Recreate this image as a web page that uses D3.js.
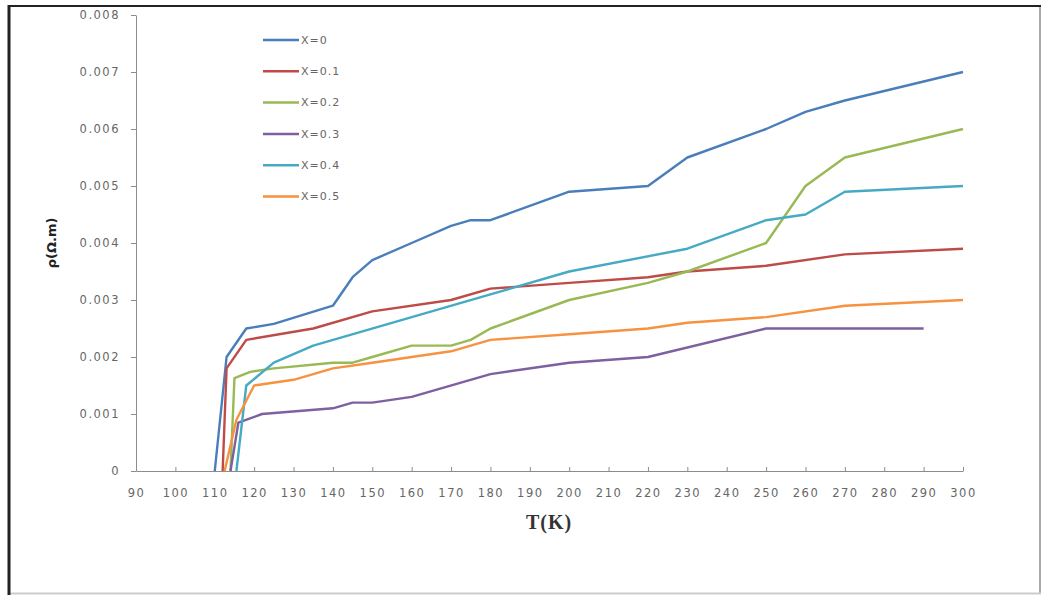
<!DOCTYPE html>
<html>
<head>
<meta charset="utf-8">
<script src="https://cdn.jsdelivr.net/npm/d3@7.9.0/dist/d3.min.js"></script>
<style>
  body { margin: 0; background: #fff; }
  .tick text { font-family: "DejaVu Sans", sans-serif; font-size: 11.5px; fill: #666; letter-spacing: 1.5px; }
  .axis path, .axis line { stroke: #8c8c8c; }
</style>
</head>
<body>
<svg id="chart" width="1045" height="595"></svg>
<script>
const seriesLabels = ['X=0', 'X=0.1', 'X=0.2', 'X=0.3', 'X=0.4', 'X=0.5'];
const seriesColors = ['#4a7ebb', '#be4b48', '#98b954', '#7d60a0', '#46aac5', '#f69240'];

// temperature (K) and resistivity (ohm.m) for each composition
const tempX0 = [110, 113, 118, 125, 140, 145, 150, 160, 170, 175, 180, 200, 220, 230, 250, 260, 270, 300];
const rhoX0 = [0, 0.002, 0.0025, 0.00258, 0.0029, 0.0034, 0.0037, 0.004, 0.0043, 0.0044, 0.0044, 0.0049, 0.005, 0.0055, 0.006, 0.0063, 0.0065, 0.007];

const tempX1 = [112, 113, 118, 135, 150, 170, 180, 200, 220, 230, 250, 270, 300];
const rhoX1 = [0, 0.0018, 0.0023, 0.0025, 0.0028, 0.003, 0.0032, 0.0033, 0.0034, 0.0035, 0.0036, 0.0038, 0.0039];

const tempX2 = [114, 115, 119, 125, 140, 145, 150, 160, 170, 175, 180, 200, 220, 230, 250, 260, 270, 300];
const rhoX2 = [0, 0.00163, 0.00174, 0.0018, 0.0019, 0.0019, 0.002, 0.0022, 0.0022, 0.0023, 0.0025, 0.003, 0.0033, 0.0035, 0.004, 0.005, 0.0055, 0.006];

const tempX3 = [114, 116, 122, 140, 145, 150, 160, 180, 200, 220, 250, 290];
const rhoX3 = [0, 0.00085, 0.001, 0.0011, 0.0012, 0.0012, 0.0013, 0.0017, 0.0019, 0.002, 0.0025, 0.0025];

const tempX4 = [115.5, 118, 125, 135, 180, 200, 230, 250, 260, 270, 300];
const rhoX4 = [0, 0.0015, 0.0019, 0.0022, 0.0031, 0.0035, 0.0039, 0.0044, 0.0045, 0.0049, 0.005];

const tempX5 = [112.5, 115.5, 120, 130, 140, 150, 170, 180, 200, 220, 230, 250, 270, 300];
const rhoX5 = [0, 0.0009, 0.0015, 0.0016, 0.0018, 0.0019, 0.0021, 0.0023, 0.0024, 0.0025, 0.0026, 0.0027, 0.0029, 0.003];

const xTicks = d3.range(90, 301, 10);
const yTicks = [0, 0.001, 0.002, 0.003, 0.004, 0.005, 0.006, 0.007, 0.008];

let temps = [tempX0, tempX1, tempX2, tempX3, tempX4, tempX5];
let rhos = [rhoX0, rhoX1, rhoX2, rhoX3, rhoX4, rhoX5];

let series = seriesLabels.map((label, i) => ({
  label: label,
  color: seriesColors[i],
  points: temps[i].map((t, j) => [t, rhos[i][j]])
}));

let svg = d3.select('#chart');

svg.append('rect').attr('width', 1045).attr('height', 595).attr('fill', '#fff');

// frame of the picture
svg.append('line').attr('x1', 1040).attr('x2', 1040).attr('y1', 6).attr('y2', 594)
  .attr('stroke', '#aaa').attr('stroke-width', 2);
svg.append('line').attr('x1', 9).attr('x2', 1041).attr('y1', 593.5).attr('y2', 593.5)
  .attr('stroke', '#ccc').attr('stroke-width', 2);
svg.append('line').attr('x1', 9).attr('x2', 9).attr('y1', 5).attr('y2', 595)
  .attr('stroke', '#222').attr('stroke-width', 3);
svg.append('line').attr('x1', 8).attr('x2', 1041).attr('y1', 6).attr('y2', 6)
  .attr('stroke', '#222').attr('stroke-width', 2);

let x = d3.scaleLinear().domain([90, 300]).range([136, 963]);
let y = d3.scaleLinear().domain([0, 0.008]).range([471, 15]);

svg.append('g')
  .attr('class', 'axis')
  .attr('transform', 'translate(136,0)')
  .call(d3.axisLeft(y)
    .tickValues(yTicks)
    .tickFormat(d => d === 0 ? '0' : d3.format('.3f')(d))
    .tickSize(5)
    .tickSizeOuter(0)
    .tickPadding(11));

svg.append('g')
  .attr('class', 'axis')
  .attr('transform', 'translate(0,471)')
  .call(d3.axisBottom(x)
    .tickValues(xTicks)
    .tickSize(-4)
    .tickSizeOuter(0)
    .tickPadding(18));

svg.selectAll('.axis .domain').attr('stroke', '#8c8c8c');

let line = d3.line()
  .x(d => x(d[0]))
  .y(d => y(d[1]));

svg.append('g')
  .selectAll('path')
  .data(series)
  .join('path')
  .attr('d', d => line(d.points))
  .attr('fill', 'none')
  .attr('stroke', d => d.color)
  .attr('stroke-width', 2.4)
  .attr('stroke-linejoin', 'round');

// legend
let legend = svg.append('g');

series.forEach((s, i) => {
  let ly = 40 + i * 31.3;
  legend.append('line')
    .attr('x1', 263).attr('x2', 299)
    .attr('y1', ly).attr('y2', ly)
    .attr('stroke', s.color)
    .attr('stroke-width', 2.5);
  legend.append('text')
    .attr('x', 301).attr('y', ly)
    .attr('dy', '0.35em')
    .attr('font-family', 'DejaVu Sans, sans-serif')
    .attr('font-size', 11)
    .attr('letter-spacing', 1)
    .attr('fill', '#666')
    .text(s.label);
});

svg.append('text')
  .attr('transform', 'translate(51,243) rotate(-90)')
  .attr('text-anchor', 'middle')
  .attr('dy', '0.35em')
  .attr('font-family', 'DejaVu Sans, sans-serif')
  .attr('font-weight', 'bold')
  .attr('font-size', 13)
  .attr('fill', '#222')
  .text('ρ(Ω.m)');

svg.append('text')
  .attr('x', 549).attr('y', 529)
  .attr('text-anchor', 'middle')
  .attr('font-family', 'Liberation Serif, serif')
  .attr('font-weight', 'bold')
  .attr('font-size', 20)
  .attr('letter-spacing', 1)
  .attr('fill', '#333')
  .text('T(K)');
</script>
</body>
</html>
